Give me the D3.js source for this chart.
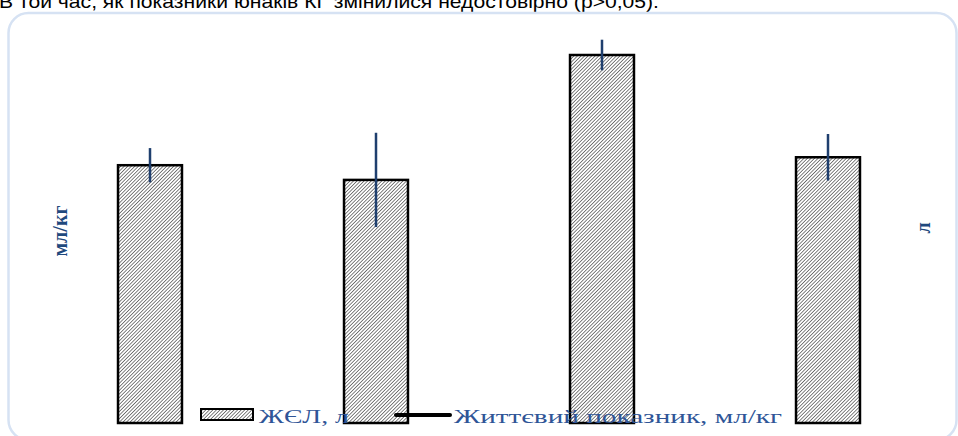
<!DOCTYPE html>
<html>
<head>
<meta charset="utf-8">
<script src="https://cdn.jsdelivr.net/npm/d3@7"></script>
<style>
  html, body { margin: 0; padding: 0; background: #fff; overflow: hidden; }
  svg { display: block; }
</style>
</head>
<body>
<svg id="chart" width="958" height="436"></svg>
<script>
// Groups and measured values (ЖЄЛ, л) with their deviations
const groups = ["КГ, початок", "КГ, кінець", "ЕГ, початок", "ЕГ, кінець"];
const vitalCapacity = [4.21, 3.97, 6.01, 4.34];
const vitalCapacityErr = [0.28, 0.77, 0.25, 0.38];

const captionText = "В той час, як показники юнаків КГ змінилися недостовірно (р>0,05).";
const leftAxisTitle = "мл/кг";
const rightAxisTitle = "л";
const legendBars = "ЖЄЛ, л";
const legendLine = "Життєвий показник, мл/кг";

const svg = d3.select("#chart");

// hatch fill for the bars
const defs = svg.append("defs");
const pat = defs.append("pattern")
  .attr("id", "hatch")
  .attr("patternUnits", "userSpaceOnUse")
  .attr("width", 2.5).attr("height", 2.5)
  .attr("patternTransform", "rotate(45)");
pat.append("rect").attr("width", 2.5).attr("height", 2.5).attr("fill", "#fff");
pat.append("line")
  .attr("x1", 0).attr("y1", 0).attr("x2", 0).attr("y2", 2.5)
  .attr("stroke", "#1a1a1a").attr("stroke-width", 1.1);

// paragraph text above the frame
svg.append("text")
  .attr("x", -1).attr("y", 8)
  .attr("font-family", "Liberation Sans, Arial, sans-serif")
  .attr("font-size", 19)
  .attr("fill", "#000")
  .attr("textLength", 660)
  .attr("lengthAdjust", "spacingAndGlyphs")
  .text(captionText);

// rounded chart frame
svg.append("rect")
  .attr("x", 8.5).attr("y", 13)
  .attr("width", 948).attr("height", 427)
  .attr("rx", 20).attr("ry", 20)
  .attr("fill", "#fff")
  .attr("stroke", "#d6e2f3")
  .attr("stroke-width", 2.5);

// scales
const x = d3.scaleBand()
  .domain(groups)
  .range([37, 941])
  .paddingInner(0.717)
  .paddingOuter(0.3585);

const y = d3.scaleLinear()
  .domain([0, 6.5])
  .range([423, 25]);

// bars
svg.append("g")
  .selectAll("rect")
  .data(groups)
  .join("rect")
  .attr("x", d => x(d))
  .attr("y", (d, i) => y(vitalCapacity[i]))
  .attr("width", x.bandwidth())
  .attr("height", (d, i) => y(0) - y(vitalCapacity[i]))
  .attr("fill", "url(#hatch)")
  .attr("stroke", "#000")
  .attr("stroke-width", 2.5);

// error bars
svg.append("g")
  .selectAll("line")
  .data(groups)
  .join("line")
  .attr("x1", d => x(d) + x.bandwidth() / 2)
  .attr("x2", d => x(d) + x.bandwidth() / 2)
  .attr("y1", (d, i) => y(vitalCapacity[i] + vitalCapacityErr[i]))
  .attr("y2", (d, i) => y(vitalCapacity[i] - vitalCapacityErr[i]))
  .attr("stroke", "#1f3f6e")
  .attr("stroke-width", 2.5);

// axis titles
svg.append("text")
  .attr("transform", "translate(67,231) rotate(-90)")
  .attr("text-anchor", "middle")
  .attr("font-family", "Liberation Serif, Times New Roman, serif")
  .attr("font-weight", "bold")
  .attr("font-size", 20)
  .attr("fill", "#1f497d")
  .text(leftAxisTitle);

svg.append("text")
  .attr("transform", "translate(930,228) rotate(-90)")
  .attr("text-anchor", "middle")
  .attr("font-family", "Liberation Serif, Times New Roman, serif")
  .attr("font-weight", "bold")
  .attr("font-size", 20)
  .attr("fill", "#1f497d")
  .text(rightAxisTitle);

// legend
const legend = svg.append("g");
legend.append("rect")
  .attr("x", 201).attr("y", 409)
  .attr("width", 52).attr("height", 11)
  .attr("fill", "url(#hatch)")
  .attr("stroke", "#000")
  .attr("stroke-width", 2);
legend.append("text")
  .attr("x", 259).attr("y", 423)
  .attr("font-family", "Liberation Serif, Times New Roman, serif")
  .attr("font-size", 19)
  .attr("fill", "#2f5597")
  .attr("textLength", 90)
  .attr("lengthAdjust", "spacingAndGlyphs")
  .text(legendBars);
legend.append("line")
  .attr("x1", 396).attr("x2", 450)
  .attr("y1", 415).attr("y2", 415)
  .attr("stroke", "#000")
  .attr("stroke-width", 4)
  .attr("stroke-linecap", "round");
legend.append("text")
  .attr("x", 454).attr("y", 423)
  .attr("font-family", "Liberation Serif, Times New Roman, serif")
  .attr("font-size", 19)
  .attr("fill", "#2f5597")
  .attr("textLength", 328)
  .attr("lengthAdjust", "spacingAndGlyphs")
  .text(legendLine);
</script>
</body>
</html>
